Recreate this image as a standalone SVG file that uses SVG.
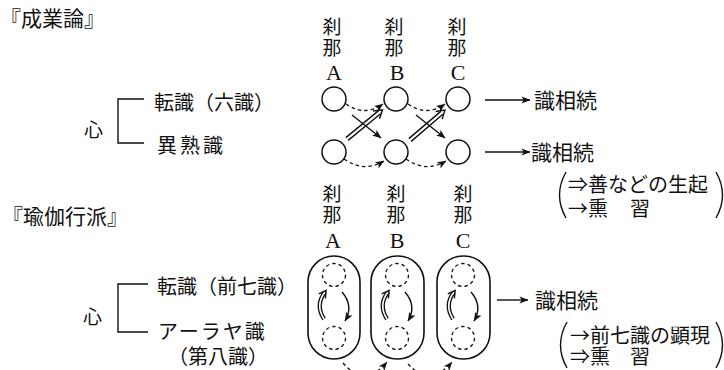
<svg xmlns="http://www.w3.org/2000/svg" width="724" height="370" viewBox="0 0 724 370">
<defs>
<style>
.t{font-family:"Noto Sans CJK JP","Noto Sans CJK SC",sans-serif;font-size:19px;fill:#111}
.v{font-family:"Noto Sans CJK JP","Noto Sans CJK SC",sans-serif;font-size:19px;fill:#111;writing-mode:vertical-rl;letter-spacing:2px}
.l{font-family:"Liberation Serif",serif;font-size:22px;fill:#111;text-anchor:middle}
.ln{fill:none;stroke:#111;stroke-width:1.4}
.ds{fill:none;stroke:#111;stroke-width:1.3;stroke-dasharray:3.5 3}
.circ{fill:#fff;stroke:#111;stroke-width:1.5}
.cap{fill:#fff;stroke:#111;stroke-width:1.6}
</style>
<marker id="ah" viewBox="0 0 10 10" refX="9.5" refY="5" markerWidth="9" markerHeight="9" markerUnits="userSpaceOnUse" orient="auto"><path d="M0,1 L10,5 L0,9 L2.5,5 z" fill="#111"/></marker>
<g id="dbl"><path d="M0,-1.8 H42 M0,1.8 H42" class="ln" stroke-width="1.2"/><path d="M38,-5 L46,0 L38,5" class="ln" stroke-width="1.2"/></g>
<g id="cyc">
<path d="M-10,319 Q-19,305 -9,292" fill="none" stroke="#111" stroke-width="4.2"/>
<path d="M-10,319 Q-19,305 -9,292" fill="none" stroke="#fff" stroke-width="1.6"/>
<polyline points="-15.2,293.8 -7.9,290.4 -8.6,298.4" class="ln" stroke-width="1.2"/>
<path d="M8,292 Q20,306 11,321" class="ln" stroke-width="1.3" marker-end="url(#ah)"/>
</g>
</defs>
<rect width="724" height="370" fill="#fff"/>

<!-- Top section -->
<g id="title1"><text x="0" y="26" class="t" style="font-size:21px">『成業論』</text></g>

<g id="mind1">
<text x="84" y="137" class="t">心</text>
<path d="M144,99 H118 V143 H144" class="ln"/>
<text x="154" y="110" class="t" style="font-size:20px">転識（六識）</text>
<text x="157" y="153" class="t" style="font-size:20px;letter-spacing:3px">異熟識</text>
</g>

<g id="labels1">
<text x="332" y="17" class="v">刹那</text><text x="334" y="80" class="l">A</text>
<text x="394" y="17" class="v">刹那</text><text x="397" y="80" class="l">B</text>
<text x="457" y="17" class="v">刹那</text><text x="458" y="80" class="l">C</text>
</g>

<g id="edges1">
<path d="M346,104 Q365,117 383,104" class="ds" marker-end="url(#ah)"/>
<path d="M408,104 Q427,117 445,104" class="ds" marker-end="url(#ah)"/>
<path d="M344,159 Q364,173 384,161" class="ds" marker-end="url(#ah)"/>
<path d="M406,159 Q426,173 446,161" class="ds" marker-end="url(#ah)"/>
<path d="M352,115 L381,138" class="ln" stroke-width="1.2" marker-end="url(#ah)"/>
<path d="M416,115 L445,138" class="ln" stroke-width="1.2" marker-end="url(#ah)"/>
<use href="#dbl" transform="translate(347,139) rotate(-39.5)"/>
<use href="#dbl" transform="translate(410,140) rotate(-40.5)"/>
<path d="M485,100 H530" class="ln" stroke-width="1.2" marker-end="url(#ah)"/>
<path d="M485,152 H530" class="ln" stroke-width="1.2" marker-end="url(#ah)"/>
</g>

<g id="nA1"><circle cx="334" cy="99" r="12" class="circ"/></g>
<g id="nB1"><circle cx="396" cy="99" r="12" class="circ"/></g>
<g id="nC1"><circle cx="458" cy="99" r="12" class="circ"/></g>
<g id="nA2"><circle cx="334" cy="152" r="12" class="circ"/></g>
<g id="nB2"><circle cx="396" cy="152" r="12" class="circ"/></g>
<g id="nC2"><circle cx="458" cy="152" r="12" class="circ"/></g>

<g id="res1">
<text x="534" y="108" class="t" style="font-size:21px">識相続</text>
<text x="531" y="160" class="t" style="font-size:21px">識相続</text>
</g>

<g id="note1">
<path d="M566,172 Q553,195 566,218" class="ln" stroke-width="1.6"/>
<path d="M716,172 Q729,195 716,218" class="ln" stroke-width="1.6"/>
<text class="t" style="font-size:20px"><tspan x="568" y="192">⇒善などの生起</tspan><tspan x="568" y="216">→熏</tspan><tspan x="630" y="216">習</tspan></text>
</g>

<!-- Bottom section -->
<g id="title2"><text x="2" y="224" class="t" style="font-size:21px">『瑜伽行派』</text></g>

<g id="mind2">
<text x="83" y="324" class="t">心</text>
<path d="M148,284 H118 V332 H148" class="ln"/>
<text x="157" y="294" class="t" style="font-size:20px">転識（前七識）</text>
<text x="158" y="339" class="t" style="font-size:20px;letter-spacing:2px">アーラヤ識</text>
<text x="168" y="364" class="t" style="font-size:20px">（第八識）</text>
</g>

<g id="labels2">
<text x="332" y="184" class="v">刹那</text><text x="333" y="248" class="l">A</text>
<text x="396" y="184" class="v">刹那</text><text x="397" y="248" class="l">B</text>
<text x="463" y="184" class="v">刹那</text><text x="463" y="248" class="l">C</text>
</g>

<g id="capA">
<rect x="308" y="256" width="52" height="103" rx="26" class="cap"/>
<circle cx="334" cy="275" r="11.5" class="ds"/>
<circle cx="334" cy="338" r="11.5" class="ds"/>
<use href="#cyc" transform="translate(334,0)"/>
</g>
<g id="capB">
<rect x="371" y="256" width="53" height="103" rx="26" class="cap"/>
<circle cx="397" cy="275" r="11.5" class="ds"/>
<circle cx="397" cy="338" r="11.5" class="ds"/>
<use href="#cyc" transform="translate(397,0)"/>
</g>
<g id="capC">
<rect x="437" y="256" width="53" height="103" rx="26" class="cap"/>
<circle cx="463" cy="275" r="11.5" class="ds"/>
<circle cx="463" cy="338" r="11.5" class="ds"/>
<use href="#cyc" transform="translate(463,0)"/>
</g>

<g id="edges2">
<path d="M343,363 Q365,388 387,362" class="ds" marker-end="url(#ah)"/>
<path d="M408,364 Q430,388 452,362" class="ds" marker-end="url(#ah)"/>
<path d="M497,300 H528" class="ln" stroke-width="1.2" marker-end="url(#ah)"/>
</g>

<g id="res2"><text x="535" y="308" class="t" style="font-size:21px">識相続</text></g>

<g id="note2">
<path d="M567,322 Q554,345 567,368" class="ln" stroke-width="1.6"/>
<path d="M716,322 Q729,345 716,368" class="ln" stroke-width="1.6"/>
<text class="t" style="font-size:20px"><tspan x="570" y="343">→前七識の顕現</tspan><tspan x="570" y="364">⇒熏</tspan><tspan x="630" y="364">習</tspan></text>
</g>
</svg>
